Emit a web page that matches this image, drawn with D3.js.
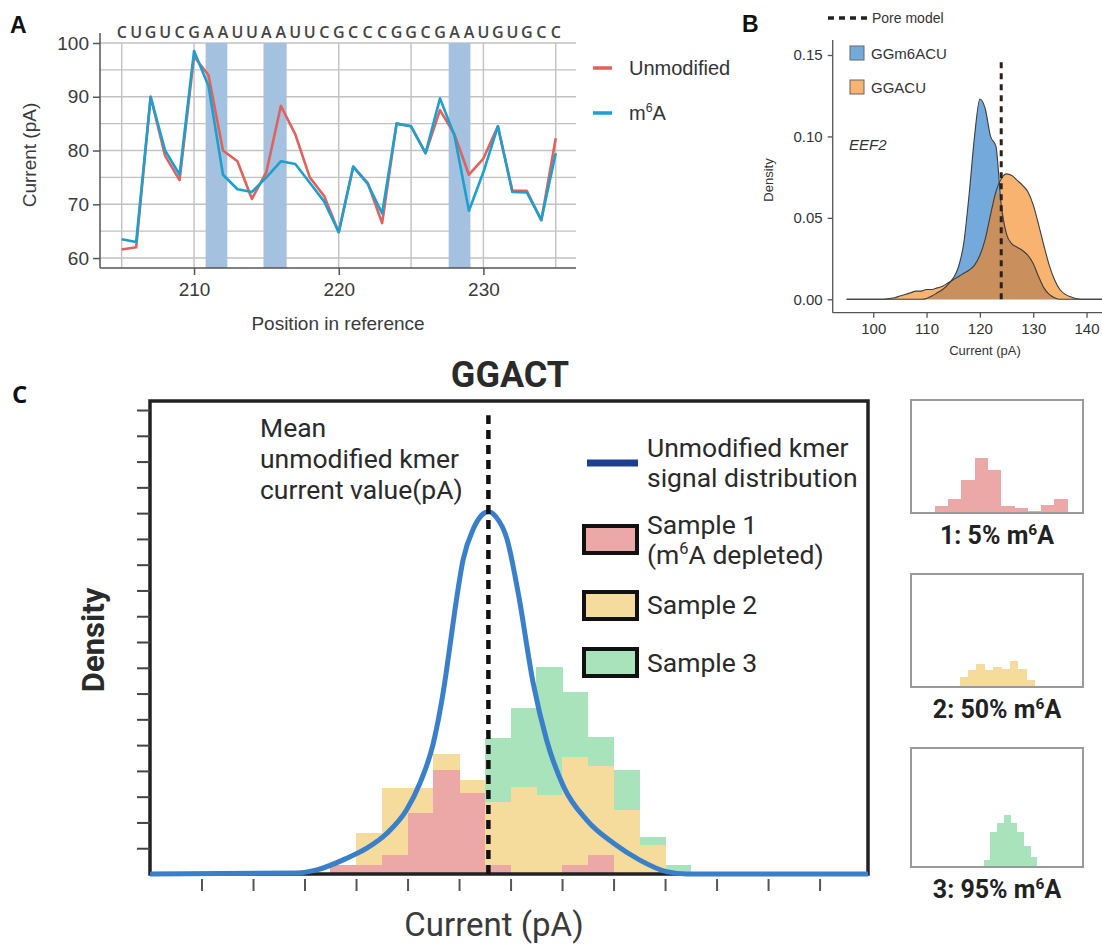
<!DOCTYPE html>
<html>
<head>
<meta charset="utf-8">
<script src="https://cdn.jsdelivr.net/npm/d3@7"></script>
<style>
body { margin: 0; background: #fff; }
svg { display: block; }
</style>
</head>
<body>
<svg id="vis" width="1102" height="944"></svg>
<script>
// ---- panel A data: current per reference position ----
var positions = [205, 206, 207, 208, 209, 210, 211, 212, 213, 214, 215, 216, 217, 218, 219, 220,
                 221, 222, 223, 224, 225, 226, 227, 228, 229, 230, 231, 232, 233, 234, 235];
var sequence = "CUGUCGAAUUAAUUCGCCCGGCGAAUGUGCC";
var unmodCurrent = [61.6, 62, 90, 79, 74.5, 97.5, 94, 80, 78, 71, 76, 88.3, 83, 75, 71.5, 64.8,
                    77, 74, 66.5, 85, 84.5, 79.5, 87.5, 83, 75.5, 78.5, 84.5, 72.5, 72.5, 67, 82.3];
var m6aCurrent = [63.5, 63, 90, 80, 75.5, 98.5, 92, 75.5, 72.8, 72.3, 75, 78, 77.5, 74, 70.5, 64.8,
                  77, 73.8, 68.3, 85, 84.5, 79.5, 89.7, 82.8, 68.8, 76, 84.5, 72.3, 72.2, 67.1, 79.5];
var highlightBands = [[210.8, 212.3], [214.8, 216.4], [227.6, 229.1]];
var gridA_y = [60, 65, 70, 75, 80, 85, 90, 95, 100];
var gridA_x = [205, 210, 215, 220, 225, 230, 235];
var ticksA_y = [60, 70, 80, 90, 100];
var ticksA_x = [210, 220, 230];

// ---- panel B data: density of current ----
var densityX = [95, 96, 97, 98, 99, 100, 101, 102, 103, 104, 105, 106, 107, 108, 109, 110, 111, 112,
                113, 114, 115, 116, 117, 118, 119, 120, 121, 122, 123, 124, 125, 126, 127, 128, 129,
                130, 131, 132, 133, 134, 135, 136, 137, 138, 139, 140, 141, 142, 143];
var densityGGACU = [0, 0, 0, 0, 0, 0, 0, 0, 0.0005, 0.001, 0.002, 0.003, 0.004, 0.005, 0.005, 0.006,
                    0.006, 0.007, 0.008, 0.010, 0.012, 0.014, 0.016, 0.018, 0.021, 0.027, 0.037, 0.052,
                    0.066, 0.074, 0.077, 0.076, 0.073, 0.070, 0.066, 0.058, 0.046, 0.033, 0.021, 0.012,
                    0.006, 0.003, 0.0015, 0.0005, 0, 0, 0, 0, 0];
var densityGGm6ACU = [0, 0, 0, 0, 0, 0, 0, 0, 0, 0, 0, 0, 0, 0, 0, 0.0005, 0.002, 0.004, 0.006, 0.009,
                      0.013, 0.02, 0.035, 0.065, 0.1, 0.123, 0.117, 0.1, 0.094, 0.058, 0.04, 0.034,
                      0.032, 0.03, 0.027, 0.022, 0.014, 0.007, 0.003, 0.001, 0, 0, 0, 0, 0, 0, 0, 0, 0];
var poreModel = 124;
var ticksB_y = [0, 0.05, 0.10, 0.15];
var ticksB_x = [100, 110, 120, 130, 140];

// ---- panel C data ----
var kmerX = [0, 2.85, 3.24, 3.82, 4.21, 4.6, 4.98, 5.24, 5.5, 5.7, 5.83, 5.92, 6.08, 6.28, 6.43, 6.57,
             6.72, 6.93, 7.15, 7.44, 7.7, 8.03, 8.48, 9.0, 9.51, 10.03, 10.42, 13.94];
var kmerY = [0, 0.04, 0.16, 0.61, 1.0, 1.58, 2.48, 3.52, 5.07, 7.14, 8.95, 10.24, 12.2, 13.4, 13.9, 14.05,
             13.85, 13.0, 10.89, 7.4, 5.2, 3.39, 2.09, 1.19, 0.54, 0.09, 0, 0];
var kmerMean = 6.57;
var binStart = 3.5, binWidth = 0.5;
var sample1 = [0.35, 0.35, 0.74, 2.35, 4.03, 3.16, 0.35, 0, 0, 0.35, 0.74, 0, 0, 0];
var sample2 = [0, 1.58, 3.32, 3.32, 4.65, 3.65, 2.8, 3.39, 3.06, 4.55, 4.2, 2.48, 1.12, 0];
var sample3 = [0, 0, 0, 0, 0, 0, 5.26, 6.45, 8.04, 7.07, 5.33, 4.03, 1.45, 0.35];
var ticksC_x = [1, 2, 3, 4, 5, 6, 7, 8, 9, 10, 11, 12, 13];
var ticksC_y = [1, 2, 3, 4, 5, 6, 7, 8, 9, 10, 11, 12, 13, 14, 15, 16, 17, 18];

// small per-sample histograms (fraction of panel height)
var miniLabels = ["1: 5% m", "2: 50% m", "3: 95% m"];
var miniStart = [3.6, 7.4, 11.0];
var miniWidth = [2, 1.25, 1];
var mini1 = [0.06, 0.12, 0.29, 0.49, 0.38, 0.065, 0.045, 0.02, 0.075, 0.12];
var mini2 = [0.09, 0.15, 0.2, 0.15, 0.18, 0.16, 0.23, 0.16, 0.06];
var mini3 = [0.06, 0.29, 0.37, 0.44, 0.37, 0.29, 0.18, 0.08];

var colRed = "#e0625c", colCyan = "#1d9fcf";
var colBlueB = "#74aadb", colOrangeB = "#f7b36f", colOverlap = "#c98f5c";
var colPink = "#eca7a7", colYellow = "#f5dc9c", colGreen = "#a9e3bc";

var vis = d3.select("#vis");
var helv = "'Liberation Sans', Arial, sans-serif";
var roboto = "Roboto, 'Noto Sans', sans-serif";

// text with a superscript after a prefix, e.g. m6A
function supText(g, x, y, prefix, sup, suffix, size, attrs) {
    var t = g.append("text").attr("x", x).attr("y", y).attr("font-size", size);
    for (var k in attrs) t.attr(k, attrs[k]);
    t.append("tspan").text(prefix);
    t.append("tspan").attr("dy", -size * 0.38).attr("font-size", size * 0.62).text(sup);
    t.append("tspan").attr("dy", size * 0.38).text(suffix);
    return t;
}

// ================= A =================
var gA = vis.append("g");
var ax = d3.scaleLinear().domain([203.5, 236.4]).range([100, 576]);
var ay = d3.scaleLinear().domain([58.15, 100]).range([268, 43]);

gA.selectAll(".hg").data(gridA_y).enter().append("line")
    .attr("x1", 100).attr("x2", 576)
    .attr("y1", d => ay(d)).attr("y2", d => ay(d))
    .attr("stroke", "#c2c2c2").attr("stroke-width", 1.4);
gA.selectAll(".vg").data(gridA_x).enter().append("line")
    .attr("x1", d => ax(d)).attr("x2", d => ax(d))
    .attr("y1", 43).attr("y2", 268)
    .attr("stroke", "#c2c2c2").attr("stroke-width", 1.4);

gA.selectAll(".band").data(highlightBands).enter().append("rect")
    .attr("x", d => ax(d[0])).attr("width", d => ax(d[1]) - ax(d[0]))
    .attr("y", 43).attr("height", 268 - 43)
    .attr("fill", "#a4c1df");

var lineA = d3.line().x((d, i) => ax(positions[i])).y(d => ay(d));
gA.append("path").attr("d", lineA(unmodCurrent))
    .attr("fill", "none").attr("stroke", colRed).attr("stroke-width", 2.6).attr("stroke-linejoin", "round");
gA.append("path").attr("d", lineA(m6aCurrent))
    .attr("fill", "none").attr("stroke", colCyan).attr("stroke-width", 2.6).attr("stroke-linejoin", "round");

// axes
gA.append("line").attr("x1", 100).attr("x2", 100).attr("y1", 33).attr("y2", 268)
    .attr("stroke", "#555").attr("stroke-width", 1.5);
gA.append("line").attr("x1", 100).attr("x2", 576).attr("y1", 268).attr("y2", 268)
    .attr("stroke", "#555").attr("stroke-width", 1.5);
var axA_y = gA.append("g").attr("transform", "translate(100,0)")
    .call(d3.axisLeft(ay).tickValues(ticksA_y).tickSize(7).tickPadding(4));
var axA_x = gA.append("g").attr("transform", "translate(0,268)")
    .call(d3.axisBottom(ax).tickValues(ticksA_x).tickSize(7).tickPadding(8));
[axA_y, axA_x].forEach(function (a) {
    a.select(".domain").remove();
    a.selectAll("line").attr("stroke", "#555").attr("stroke-width", 1.5);
    a.selectAll("text").attr("font-family", helv).attr("font-size", 19).attr("fill", "#3a3a3a");
});

gA.selectAll(".seq").data(sequence.split("")).enter().append("text")
    .attr("x", (d, i) => ax(positions[i])).attr("y", 38)
    .attr("text-anchor", "middle")
    .attr("font-family", "'Open Sans', sans-serif").attr("font-size", 16).attr("font-weight", 600)
    .attr("fill", "#444").text(d => d);

gA.append("text").attr("transform", "translate(36,155) rotate(-90)")
    .attr("text-anchor", "middle").attr("font-family", helv).attr("font-size", 19)
    .attr("fill", "#3a3a3a").text("Current (pA)");
gA.append("text").attr("x", 338).attr("y", 330)
    .attr("text-anchor", "middle").attr("font-family", helv).attr("font-size", 19)
    .attr("fill", "#3a3a3a").text("Position in reference");

// legend A
gA.append("line").attr("x1", 593).attr("x2", 612).attr("y1", 68).attr("y2", 68)
    .attr("stroke", colRed).attr("stroke-width", 3.5);
gA.append("text").attr("x", 629).attr("y", 75).attr("font-family", helv).attr("font-size", 20)
    .attr("fill", "#333").text("Unmodified");
gA.append("line").attr("x1", 593).attr("x2", 612).attr("y1", 113).attr("y2", 113)
    .attr("stroke", colCyan).attr("stroke-width", 3.5);
supText(gA, 629, 120, "m", "6", "A", 20, {"font-family": helv, "fill": "#333"});

gA.append("text").attr("x", 10).attr("y", 33).attr("font-family", helv).attr("font-size", 23)
    .attr("font-weight", "bold").attr("fill", "#111").text("A");

// ================= B =================
var gB = vis.append("g");
var bx = d3.scaleLinear().domain([92.4, 142.9]).range([832.7, 1102]);
var by = d3.scaleLinear().domain([0, 0.15]).range([299.3, 55]);

var areaB = d3.area().curve(d3.curveMonotoneX)
    .x((d, i) => bx(densityX[i])).y0(by(0)).y1(d => by(d));
var lineB = d3.line().curve(d3.curveMonotoneX)
    .x((d, i) => bx(densityX[i])).y(d => by(d));
var overlap = densityGGACU.map((d, i) => Math.min(d, densityGGm6ACU[i]));

gB.append("path").attr("d", areaB(densityGGACU)).attr("fill", colOrangeB);
gB.append("path").attr("d", areaB(densityGGm6ACU)).attr("fill", colBlueB);
gB.append("path").attr("d", areaB(overlap)).attr("fill", colOverlap);
gB.append("path").attr("d", lineB(densityGGACU)).attr("fill", "none").attr("stroke", "#3d3d3d").attr("stroke-width", 1.1);
gB.append("path").attr("d", lineB(densityGGm6ACU)).attr("fill", "none").attr("stroke", "#3d3d3d").attr("stroke-width", 1.1);

gB.append("line").attr("x1", bx(poreModel)).attr("x2", bx(poreModel))
    .attr("y1", by(0)).attr("y2", by(0.148))
    .attr("stroke", "#2b2118").attr("stroke-width", 3).attr("stroke-dasharray", "6,5");

gB.append("line").attr("x1", 832.7).attr("x2", 832.7).attr("y1", 40).attr("y2", 312.7)
    .attr("stroke", "#555").attr("stroke-width", 1.3);
gB.append("line").attr("x1", 832.7).attr("x2", 1102).attr("y1", 312.7).attr("y2", 312.7)
    .attr("stroke", "#555").attr("stroke-width", 1.3);
var axB_y = gB.append("g").attr("transform", "translate(832.7,0)")
    .call(d3.axisLeft(by).tickValues(ticksB_y).tickFormat(d3.format(".2f")).tickSize(5).tickPadding(5));
var axB_x = gB.append("g").attr("transform", "translate(0,312.7)")
    .call(d3.axisBottom(bx).tickValues(ticksB_x).tickSize(5).tickPadding(6));
[axB_y, axB_x].forEach(function (a) {
    a.select(".domain").remove();
    a.selectAll("line").attr("stroke", "#555").attr("stroke-width", 1.3);
    a.selectAll("text").attr("font-family", helv).attr("font-size", 15).attr("fill", "#333");
});

gB.append("text").attr("transform", "translate(773,180) rotate(-90)")
    .attr("text-anchor", "middle").attr("font-family", helv).attr("font-size", 13)
    .attr("fill", "#333").text("Density");
gB.append("text").attr("x", 985).attr("y", 355)
    .attr("text-anchor", "middle").attr("font-family", helv).attr("font-size", 13)
    .attr("fill", "#333").text("Current (pA)");

// legend B
gB.append("line").attr("x1", 828).attr("x2", 867).attr("y1", 18).attr("y2", 18)
    .attr("stroke", "#222").attr("stroke-width", 3.5).attr("stroke-dasharray", "6,5");
gB.append("text").attr("x", 872).attr("y", 23).attr("font-family", helv).attr("font-size", 14)
    .attr("fill", "#333").text("Pore model");
[["GGm6ACU", colBlueB, 53], ["GGACU", colOrangeB, 87]].forEach(function (d) {
    gB.append("rect").attr("x", 850).attr("y", d[2] - 7).attr("width", 14).attr("height", 14)
        .attr("fill", d[1]).attr("stroke", "#666").attr("stroke-width", 1);
    gB.append("text").attr("x", 871).attr("y", d[2] + 5.5).attr("font-family", helv)
        .attr("font-size", 15).attr("fill", "#333").text(d[0]);
});
gB.append("text").attr("x", 849).attr("y", 150).attr("font-family", helv).attr("font-size", 15)
    .attr("font-style", "italic").attr("fill", "#333").text("EEF2");
gB.append("text").attr("x", 742).attr("y", 32).attr("font-family", helv).attr("font-size", 23)
    .attr("font-weight", "bold").attr("fill", "#111").text("B");

// ================= C =================
var gC = vis.append("g");
var cx = d3.scaleLinear().domain([0, 13.94]).range([150, 868]);
var cy = d3.scaleLinear().domain([0, 18.35]).range([874, 401]);

[[sample3, colGreen], [sample2, colYellow], [sample1, colPink]].forEach(function (s) {
    var bins = s[0].map((v, i) => ({x0: binStart + i * binWidth, h: v})).filter(b => b.h > 0);
    gC.append("g").attr("shape-rendering", "crispEdges")
        .selectAll("rect").data(bins).enter().append("rect")
        .attr("x", b => cx(b.x0)).attr("width", b => cx(b.x0 + binWidth) - cx(b.x0) + 0.5)
        .attr("y", b => cy(b.h)).attr("height", b => cy(0) - cy(b.h))
        .attr("fill", s[1]);
});

gC.append("rect").attr("x", 150).attr("y", 401).attr("width", 718).attr("height", 473)
    .attr("fill", "none").attr("stroke", "#222").attr("stroke-width", 3.5);

var axC_y = gC.append("g").attr("transform", "translate(150,0)")
    .call(d3.axisLeft(cy).tickValues(ticksC_y).tickSize(13).tickFormat(""));
var axC_x = gC.append("g").attr("transform", "translate(0,874)")
    .call(d3.axisBottom(cx).tickValues(ticksC_x).tickSize(17).tickFormat(""));
[axC_y, axC_x].forEach(function (a) {
    a.select(".domain").remove();
    a.selectAll("line").attr("stroke", "#444").attr("stroke-width", 2);
});
axC_x.selectAll("line").attr("y1", 5).attr("stroke", "#555");

var kmerLine = d3.line().curve(d3.curveMonotoneX).x((d, i) => cx(kmerX[i])).y(d => cy(d));
gC.append("path").attr("d", kmerLine(kmerY)).attr("fill", "none")
    .attr("stroke", "#3a7fc9").attr("stroke-width", 5);

gC.append("line").attr("x1", cx(kmerMean)).attr("x2", cx(kmerMean))
    .attr("y1", cy(0)).attr("y2", cy(17.8))
    .attr("stroke", "#111").attr("stroke-width", 4.5).attr("stroke-dasharray", "9,6");

var txt = {"font-family": roboto, "fill": "#2a2a2a"};
function cText(x, y, s, size) {
    var t = gC.append("text").attr("x", x).attr("y", y).attr("font-size", size || 26.5).text(s);
    for (var k in txt) t.attr(k, txt[k]);
    return t;
}
cText(260, 437, "Mean");
cText(260, 468, "unmodified kmer");
cText(260, 499, "current value(pA)");

gC.append("line").attr("x1", 587).attr("x2", 638).attr("y1", 463).attr("y2", 463)
    .attr("stroke", "#1e3f8f").attr("stroke-width", 7);
cText(647, 457, "Unmodified kmer");
cText(647, 487, "signal distribution");

[[526, colPink], [592, colYellow], [649, colGreen]].forEach(function (d) {
    gC.append("rect").attr("x", 584).attr("y", d[0]).attr("width", 53).attr("height", 27)
        .attr("fill", d[1]).attr("stroke", "#111").attr("stroke-width", 4);
});
cText(647, 534, "Sample 1");
supText(gC, 647, 564, "(m", "6", "A depleted)", 26.5, txt);
cText(647, 614, "Sample 2");
cText(647, 672, "Sample 3");

gC.append("text").attr("x", 510).attr("y", 387).attr("text-anchor", "middle")
    .attr("font-family", roboto).attr("font-weight", "bold").attr("font-size", 36)
    .attr("fill", "#2a2a2a").text("GGACT");
gC.append("text").attr("transform", "translate(104,640) rotate(-90)").attr("text-anchor", "middle")
    .attr("font-family", roboto).attr("font-weight", "bold").attr("font-size", 31)
    .attr("fill", "#2a2a2a").text("Density");
gC.append("text").attr("x", 494).attr("y", 936).attr("text-anchor", "middle")
    .attr("font-family", roboto).attr("font-size", 33)
    .attr("fill", "#3a3a3a").text("Current (pA)");
gC.append("text").attr("x", 12).attr("y", 403).attr("font-family", "'Open Sans', sans-serif")
    .attr("font-size", 24).attr("font-weight", "bold").attr("fill", "#111").text("C");

// mini panels
var miniBoxes = [{y: 400, h: 113}, {y: 574, h: 113}, {y: 748, h: 119}];
var miniData = [mini1, mini2, mini3];
var miniColors = [colPink, colYellow, colGreen];
miniBoxes.forEach(function (b, k) {
    var mx = d3.scaleLinear().domain([0, 26]).range([911, 1083]);
    var my = d3.scaleLinear().domain([0, 1]).range([b.y + b.h, b.y]);
    var g = vis.append("g");
    var bins = miniData[k].map((v, i) => ({x0: miniStart[k] + i * miniWidth[k], h: v}));
    g.append("g").attr("shape-rendering", "crispEdges")
        .selectAll("rect").data(bins).enter().append("rect")
        .attr("x", d => mx(d.x0)).attr("width", d => mx(d.x0 + miniWidth[k]) - mx(d.x0) + 0.5)
        .attr("y", d => my(d.h)).attr("height", d => my(0) - my(d.h))
        .attr("fill", miniColors[k]);
    g.append("rect").attr("x", 911).attr("y", b.y).attr("width", 172).attr("height", b.h)
        .attr("fill", "none").attr("stroke", "#9a9a9a").attr("stroke-width", 2);
    var t = supText(g, 997, b.y + b.h + 31, miniLabels[k], "6", "A", 25,
        {"font-family": roboto, "font-weight": "bold", "fill": "#222"});
    t.attr("text-anchor", "middle");
});
</script>
</body>
</html>
